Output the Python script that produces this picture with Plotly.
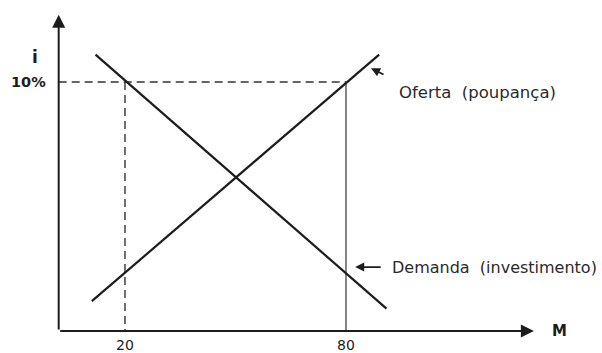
"""
Oferta e demanda de fundos: taxa de juros i contra quantidade M
"""
import plotly.graph_objects as go

# data
demand_m = [12, 91]
demand_i = [11.1, 0.9]
supply_m = [11, 89]
supply_i = [1.2, 11.1]
m_ticks = [20, 80]
m_tick_labels = ["20", "80"]
i_level = 10
i_level_label = "10%"
supply_label = "Oferta\u00a0\u00a0(poupança)"
demand_label = "Demanda\u00a0\u00a0(investimento)"

m0 = 2          # where the vertical axis stands
m_end = 131     # tip of the horizontal axis arrow
i_top = 12.7    # tip of the vertical axis arrow

ink = '#1c1c1c'
font = "DejaVu Sans"

fig = go.Figure()

# helper lines at 10%
fig.add_trace(go.Scatter(x=[m0, m_ticks[1]], y=[i_level, i_level],
                         mode='lines',
                         line={"color": '#333', "width": 1.4,
                               "dash": '8px,5px'}))
fig.add_trace(go.Scatter(x=[m_ticks[0], m_ticks[0]], y=[i_level, 0],
                         mode='lines',
                         line={"color": '#333', "width": 1.4,
                               "dash": '8px,5px'}))
fig.add_trace(go.Scatter(x=[m_ticks[1], m_ticks[1]], y=[i_level, 0],
                         mode='lines',
                         line={"color": '#444', "width": 1.3}))

# curves
fig.add_trace(go.Scatter(x=demand_m, y=demand_i, mode='lines',
                         line={"color": ink, "width": 2.2}))
fig.add_trace(go.Scatter(x=supply_m, y=supply_i, mode='lines',
                         line={"color": ink, "width": 2.2}))

# axes with arrows
fig.add_annotation(x=m0, y=i_top, ax=m0, ay=0, axref='x', ayref='y',
                   showarrow=True, arrowhead=2, arrowsize=1.3,
                   arrowwidth=2, arrowcolor=ink, text="")
fig.add_annotation(x=m_end, y=0, ax=m0, ay=0, axref='x', ayref='y',
                   showarrow=True, arrowhead=2, arrowsize=1.3,
                   arrowwidth=2, arrowcolor=ink, text="")

# axis labels
fig.add_annotation(x=m0, y=i_top - 1.7, text="<b>i</b>", showarrow=False,
                   xanchor='right', xshift=-19,
                   font={"family": font, "size": 17, "color": ink})
fig.add_annotation(x=m0, y=i_level, text="<b>" + i_level_label + "</b>",
                   showarrow=False, xanchor='right', xshift=-11,
                   font={"family": font, "size": 14.5, "color": ink})
fig.add_annotation(x=m_end, y=0, text="<b>M</b>", showarrow=False,
                   xanchor='left', xshift=16,
                   font={"family": font, "size": 15, "color": ink})
for m, lab in zip(m_ticks, m_tick_labels):
    fig.add_annotation(x=m, y=0, text=lab, showarrow=False,
                       yanchor='top', yshift=-4,
                       font={"family": font, "size": 14, "color": ink})

# curve labels with pointers
fig.add_annotation(x=supply_m[1] - 2.2, y=supply_i[1] - 0.55,
                   ax=14, ay=7, showarrow=True, arrowhead=2,
                   arrowsize=1, arrowwidth=1.8, arrowcolor=ink, text="")
fig.add_annotation(x=93.9, y=9.56, text=supply_label, showarrow=False,
                   xanchor='left',
                   font={"family": font, "size": 16.5, "color": '#2a2a2a'})
fig.add_annotation(x=82.5, y=2.57, ax=27, ay=0, showarrow=True,
                   arrowhead=2, arrowsize=1, arrowwidth=1.8,
                   arrowcolor=ink, text="")
fig.add_annotation(x=92, y=2.57, text=demand_label, showarrow=False,
                   xanchor='left',
                   font={"family": font, "size": 16, "color": '#2a2a2a'})

fig.update_layout(width=602, height=353,
                  margin={"l": 0, "r": 0, "t": 0, "b": 0},
                  showlegend=False,
                  plot_bgcolor='white',
                  paper_bgcolor='white')
fig.update_xaxes(range=[-13.93, 149.5], visible=False)
fig.update_yaxes(range=[-0.88, 13.29], visible=False)

fig.write_html("out.html", config={"displayModeBar": False},
               post_script="document.body.style.margin = '0';")
